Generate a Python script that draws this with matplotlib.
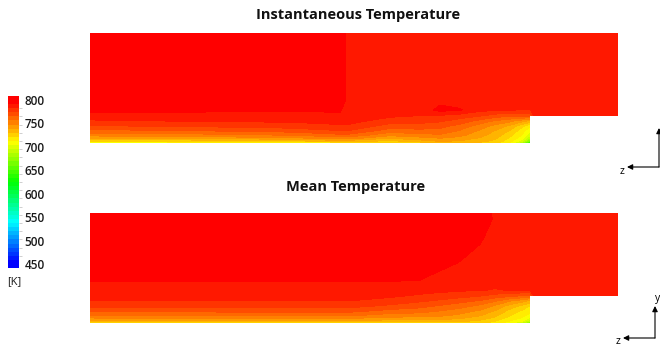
import numpy as np
import matplotlib
matplotlib.use('Agg')
import matplotlib.pyplot as plt
from matplotlib.colors import LinearSegmentedColormap, ListedColormap, BoundaryNorm

plt.rcParams['font.family'] = ['Open Sans', 'DejaVu Sans']

# domain (mm-ish units): channel length, height, and the step at the outlet
LENGTH, HEIGHT = 528, 110
STEP_X, STEP_Y = 440, 27

T_MIN, T_MAX, N_BANDS = 450, 800, 40
cbar_ticks = [800, 750, 700, 650, 600, 550, 500, 450]

x_stations = [0, 100, 200, 250, 258, 300, 330, 350, 370, 390, 405, 420, 432, 440, 444, 480, 528]
y_stations = [0, 2, 5, 8, 12, 17, 22, 27, 33, 42, 60, 85, 104, 110]

nan = np.nan
# temperature profiles [K], one list per x station, bottom wall to top wall
inst_profiles = [
    [700, 722, 740, 751, 762, 773, 781, 788, 793, 797, 800, 800, 800, 798],
    [702, 724, 742, 753, 764, 775, 783, 788, 793, 798, 800, 800, 800, 798],
    [706, 728, 746, 757, 768, 778, 784, 789, 792, 798, 800, 800, 800, 798],
    [710, 735, 752, 763, 773, 781, 786, 790, 792, 797, 800, 800, 800, 798],
    [710, 735, 752, 763, 773, 781, 786, 788, 788, 788, 788, 788, 788, 787],
    [715, 728, 740, 750, 760, 770, 778, 784, 787, 787, 787, 787, 787, 786],
    [725, 735, 745, 753, 762, 770, 777, 782, 786, 787, 787, 787, 787, 786],
    [732, 740, 748, 755, 762, 768, 775, 781, 794, 789, 787, 787, 787, 786],
    [732, 738, 745, 750, 755, 762, 770, 778, 792, 788, 787, 787, 787, 786],
    [728, 733, 738, 742, 746, 752, 762, 774, 785, 787, 787, 787, 787, 786],
    [724, 728, 732, 735, 738, 745, 755, 769, 784, 787, 787, 787, 787, 786],
    [710, 716, 720, 724, 729, 737, 750, 766, 783, 787, 787, 787, 787, 786],
    [680, 698, 708, 712, 716, 724, 742, 768, 782, 787, 787, 787, 787, 786],
    [630, 660, 685, 698, 706, 714, 736, 766, 782, 787, 787, 787, 787, 786],
    [nan, nan, nan, nan, nan, nan, nan, 784, 786, 787, 787, 787, 787, 786],
    [nan, nan, nan, nan, nan, nan, nan, 785, 786, 787, 787, 787, 787, 786],
    [nan, nan, nan, nan, nan, nan, nan, 786, 787, 787, 787, 787, 787, 786],
]

mean_profiles = [
    [714, 735, 747.5, 758, 767, 777, 782, 786, 789, 791.5, 797, 800, 800, 799],
    [714, 735, 748, 758, 767, 777, 782, 786, 789, 791.5, 797, 800, 800, 799],
    [715, 736, 748, 759, 768, 777, 782.5, 786, 789, 791.4, 797, 800, 800, 799],
    [716, 737, 749, 759, 768, 777, 782.5, 786, 789, 791.3, 797, 800, 800, 799],
    [716, 737, 749, 759, 768, 777, 782.5, 786, 789, 791.3, 797, 800, 800, 799],
    [718, 735, 745, 753, 762, 772, 779, 784, 788, 791.4, 797, 800, 800, 799],
    [722, 735, 745, 752, 760, 768, 775, 781, 786, 791, 796, 800, 800, 799],
    [725, 735, 744, 750, 756, 764, 772, 779, 785, 789, 793, 800, 800, 799],
    [724, 732, 740, 746, 752, 760, 768, 777, 784, 788, 791, 795, 800, 799],
    [722, 728, 735, 740, 746, 754, 764, 774, 783, 786, 789, 792, 797, 798],
    [718, 722, 728, 733, 738, 746, 757, 770, 782, 785, 787, 789, 790, 789],
    [705, 712, 718, 722, 727, 735, 748, 767, 783, 786, 787, 788, 788, 787],
    [690, 705, 712, 716, 720, 728, 742, 764, 783, 786, 787, 788, 788, 787],
    [660, 685, 702, 710, 715, 721, 736, 762, 783, 786, 787, 788, 788, 787],
    [nan, nan, nan, nan, nan, nan, nan, 784, 786, 787, 788, 788, 788, 787],
    [nan, nan, nan, nan, nan, nan, nan, 785, 786, 787, 788, 789, 789, 787],
    [nan, nan, nan, nan, nan, nan, nan, 785, 786, 787, 788, 789, 789, 787],
]

levels = np.linspace(T_MIN, T_MAX, N_BANDS + 1)
rainbow = LinearSegmentedColormap.from_list(
    'bgr', ['#0000ff', '#00ffff', '#00ff00', '#ffff00', '#ff0000'])
band_cmap = ListedColormap(rainbow(np.linspace(0, 1, N_BANDS)))
band_norm = BoundaryNorm(levels, N_BANDS)

W, H = 660, 348
fig = plt.figure(figsize=(W / 100, H / 100), dpi=100)


def px_axes(x0, y0, x1, y1):
    # axes from pixel box (top-left origin)
    return fig.add_axes([x0 / W, 1 - y1 / H, (x1 - x0) / W, (y1 - y0) / H])


def draw_field(ax, profiles):
    xx, yy = np.meshgrid(x_stations, y_stations)
    temp = np.ma.masked_invalid(np.array(profiles, dtype=float).T)
    ax.contourf(xx, yy, temp, levels=levels, cmap=band_cmap, norm=band_norm,
                corner_mask=False)
    ax.set_xlim(0, LENGTH)
    ax.set_ylim(0, HEIGHT)
    ax.axis('off')


ax_inst = px_axes(90, 33, 618, 143)
draw_field(ax_inst, inst_profiles)
ax_mean = px_axes(90, 213, 618, 323)
draw_field(ax_mean, mean_profiles)

fig.text(358 / W, 1 - 15 / H, 'Instantaneous Temperature', ha='center',
         va='center', fontsize=10.5, fontweight='bold', color='#111111')
fig.text(356 / W, 1 - 187 / H, 'Mean Temperature', ha='center',
         va='center', fontsize=10.5, fontweight='bold', color='#111111')

# colour legend
cax = px_axes(8, 96, 19, 268)
edges = levels.copy()
edges[0], edges[-1] = 441.5, 808.5
cax.pcolormesh([0, 1], edges, np.arange(N_BANDS).reshape(-1, 1),
               cmap=band_cmap, vmin=-0.5, vmax=N_BANDS - 0.5)
cax.set_ylim(441.5, 808.5)
cax.set_xlim(0, 1)
for side in cax.spines.values():
    side.set_visible(False)
cax.set_xticks([])
cax.yaxis.tick_right()
cax.set_yticks(cbar_ticks)
cax.set_yticklabels([str(t) for t in cbar_ticks], fontsize=8.5,
                    fontweight='semibold', color='#1a1a1a')
cax.set_yticks(levels[::2], minor=True)
cax.tick_params(axis='y', which='major', length=0, pad=4)
cax.tick_params(axis='y', which='minor', length=2, width=0.6,
                color='#c8c8c8', direction='out')
fig.text(7 / W, 1 - 282 / H, '[K]', ha='left', va='center', fontsize=8,
         color='#1a1a1a')

# orientation triads
ov = fig.add_axes([0, 0, 1, 1])
ov.set_xlim(0, W)
ov.set_ylim(H, 0)
ov.axis('off')
arrow = dict(arrowstyle='-|>', color='black', lw=0.8, mutation_scale=8,
             shrinkA=0, shrinkB=0)
for ox, oy, top in [(659, 167, 128), (655, 338, 306)]:
    ov.annotate('', xy=(ox - 32, oy), xytext=(ox, oy), arrowprops=arrow)
    ov.annotate('', xy=(ox, top), xytext=(ox, oy), arrowprops=arrow)
    ov.text(ox - 37, oy + 4, 'z', ha='center', va='center', fontsize=7.5)
ov.text(658, 298, 'y', ha='center', va='center', fontsize=7.5)

fig.savefig('out.png', dpi=100)
